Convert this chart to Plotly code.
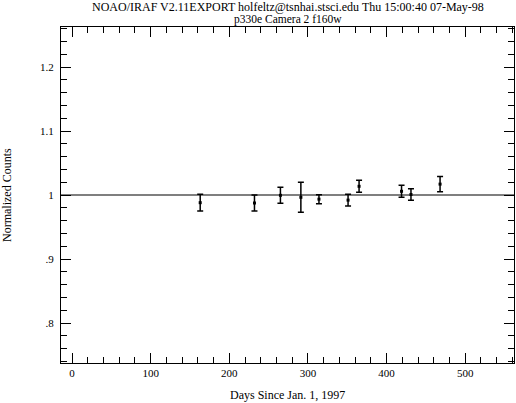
import plotly.graph_objects as go

days = [163, 232, 265, 291, 314, 351, 365, 419, 431, 468]
counts = [0.988, 0.9875, 0.9995, 0.9964, 0.9935, 0.992, 1.0136, 1.0058, 1.0008, 1.017]
errors = [0.013, 0.0125, 0.0125, 0.0234, 0.007, 0.009, 0.0094, 0.0094, 0.009, 0.012]

reference_level = 1.0
x_tick_vals = [0, 100, 200, 300, 400, 500]
x_tick_text = ["0", "100", "200", "300", "400", "500"]
y_tick_vals = [0.8, 0.9, 1.0, 1.1, 1.2]
y_tick_text = [".8", ".9", "1", "1.1", "1.2"]

title_lines = ["NOAO/IRAF V2.11EXPORT holfeltz@tsnhai.stsci.edu Thu 15:00:40 07-May-98",
               "p330e Camera 2 f160w"]
x_title = "Days Since Jan. 1, 1997"
y_title = "Normalized Counts"

FONT = "Liberation Serif"
TXT = dict(family=FONT, size=11, color="black")
TXT12 = dict(family=FONT, size=12, color="black")

fig = go.Figure()
fig.add_trace(go.Scatter(
    x=days, y=counts, mode="markers",
    marker=dict(symbol="square", size=3, color="black"),
    error_y=dict(type="data", array=errors, visible=True, color="black",
                 thickness=1.5, width=3),
    showlegend=False,
))
fig.add_hline(y=reference_level, line=dict(color="black", width=1.2))

axis_common = dict(
    showgrid=False, zeroline=False, showline=True, linecolor="black", linewidth=1,
    mirror="allticks", ticks="inside", tickcolor="black", ticklen=10, tickwidth=1,
    tickfont=TXT, automargin=False,
)
fig.update_xaxes(range=[-14, 562], tickvals=x_tick_vals, ticktext=x_tick_text,
                 minor=dict(dtick=20, ticks="inside", ticklen=6, tickcolor="black", tickwidth=1),
                 **axis_common)
fig.update_yaxes(range=[0.7375, 1.2625], tickvals=y_tick_vals, ticktext=y_tick_text,
                 minor=dict(tick0=0.8, dtick=0.02, ticks="inside", ticklen=6, tickcolor="black", tickwidth=1),
                 ticklabelstandoff=4,
                 **axis_common)

annotations = [
    dict(text=title_lines[0], x=0.5, y=1, xref="paper", yref="paper", xanchor="center",
         yanchor="middle", yshift=20.5, borderpad=0, showarrow=False, font=TXT12),
    dict(text=title_lines[1], x=0.5, y=1, xref="paper", yref="paper", xanchor="center",
         yanchor="middle", yshift=7.5, borderpad=0, showarrow=False,
         font=dict(family=FONT, size=11.5, color="black")),
    dict(text=x_title, x=0.5, y=0, xref="paper", yref="paper", xanchor="center",
         yanchor="top", yshift=-23, showarrow=False, font=TXT12),
    dict(text=y_title, x=0, y=0.5, xref="paper", yref="paper", xanchor="right",
         yanchor="middle", xshift=-45, showarrow=False, font=TXT12, textangle=-90),
]

fig.update_layout(
    width=516, height=403,
    margin=dict(l=61, r=2, t=27, b=40, autoexpand=False),
    paper_bgcolor="white", plot_bgcolor="white",
    annotations=annotations,
)

fig.write_html("out.html", config={"displayModeBar": False},
               post_script="document.body.style.margin='0';")
